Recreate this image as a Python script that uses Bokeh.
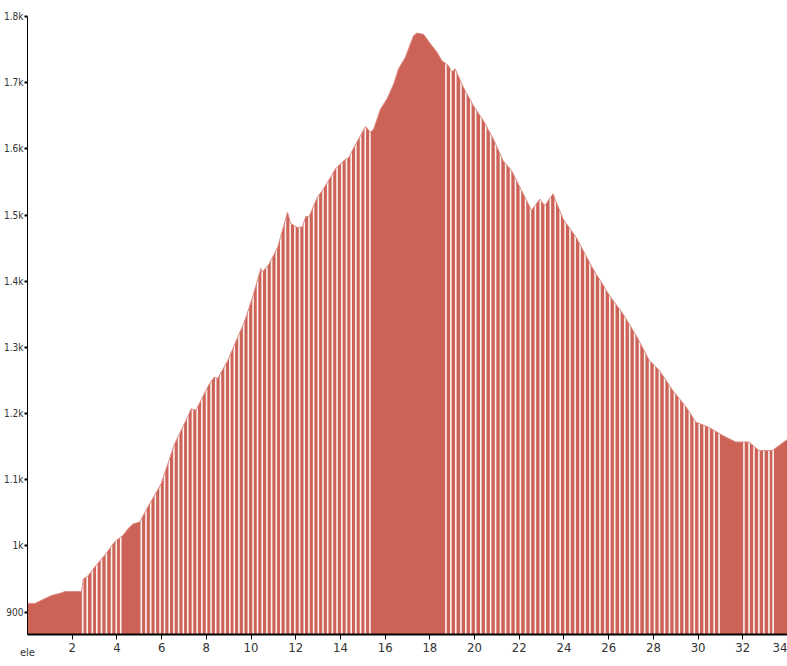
from bokeh.plotting import figure
from bokeh.models import Range1d, FixedTicker, CustomJSTickFormatter, ColumnDataSource
from bokeh.embed import file_html
from bokeh.resources import INLINE

# ---- data (distance in km, elevation in m) ----
dist_km = [0.00, 0.34, 0.64, 1.08, 1.53, 1.68, 2.42, 2.50, 2.72, 3.01, 3.46, 3.90,
           4.28, 4.50, 4.72, 5.02, 5.39, 5.98, 6.58, 7.17, 7.32, 7.54, 7.91, 8.14,
           8.36, 8.51, 8.96, 9.40, 9.70, 10.07, 10.37, 10.44, 10.52, 10.81, 11.19,
           11.63, 11.78, 12.08, 12.30, 12.45, 12.59, 12.97, 13.19, 13.56, 13.78,
           14.15, 14.38, 14.60, 14.90, 15.12, 15.34, 15.49, 15.79, 16.09, 16.38,
           16.60, 16.90, 17.27, 17.42, 17.72, 18.02, 18.32, 18.54, 18.83, 18.98,
           19.13, 19.50, 19.95, 20.39, 20.84, 21.28, 21.66, 22.10, 22.55, 22.92,
           23.14, 23.51, 23.96, 24.55, 25.29, 26.04, 26.63, 27.23, 27.82, 28.27,
           28.86, 29.46, 29.90, 30.49, 31.09, 31.68, 32.28, 32.72, 33.32, 34.00]
elevation = [913, 913, 918, 925, 929, 931, 931, 950, 955, 968, 986, 1006,
             1016, 1026, 1033, 1036, 1059, 1094, 1154, 1195, 1207, 1205, 1230, 1245,
             1255, 1253, 1280, 1315, 1338, 1376, 1411, 1419, 1414, 1426, 1451,
             1504, 1487, 1481, 1482, 1498, 1497, 1527, 1537, 1557, 1570,
             1582, 1587, 1602, 1620, 1634, 1625, 1630, 1660, 1676, 1698,
             1721, 1738, 1771, 1775, 1773, 1759, 1746, 1733, 1726, 1716,
             1721, 1693, 1665, 1643, 1615, 1582, 1567, 1537, 1507, 1524,
             1514, 1532, 1494, 1466, 1419, 1378, 1351, 1318, 1280, 1265,
             1235, 1210, 1187, 1179, 1167, 1157, 1157, 1144, 1144, 1161]

# segment boundaries (km) that show as thin white gaps in the fill
gap_km = [2.47, 2.67, 2.90, 3.10, 3.31, 3.53, 3.76, 3.97, 4.17,
          5.09, 5.30, 5.51, 5.72, 5.93, 6.13, 6.34, 6.55, 6.76, 6.97, 7.17, 7.38,
          7.59, 7.80, 8.01, 8.21, 8.42, 8.63, 8.84, 9.05, 9.25, 9.46, 9.67, 9.88,
          10.09, 10.29, 10.50, 10.71, 10.92, 11.13, 11.33, 11.54, 11.75, 11.96,
          12.17, 12.38, 12.59, 12.80, 13.01, 13.22, 13.43, 13.64, 13.85, 14.06,
          14.27, 14.48, 14.69, 14.90, 15.11, 15.32,
          18.72, 18.94, 19.16, 19.39, 19.61, 19.83, 20.05, 20.28, 20.50, 20.72,
          20.94, 21.16, 21.39, 21.61, 21.83, 22.05, 22.28, 22.50, 22.72, 22.94,
          23.16, 23.39, 23.61, 23.83, 24.05, 24.27, 24.50, 24.72, 24.94, 25.16,
          25.39, 25.61, 25.83, 26.05, 26.27, 26.50, 26.72, 26.94, 27.16, 27.38,
          27.61, 27.83, 28.05, 28.27, 28.50, 28.72, 28.94, 29.16, 29.38, 29.61,
          29.83, 30.05, 30.27, 30.49, 30.72, 30.94,
          32.05, 32.28, 32.50, 32.72, 32.94, 33.17, 33.36]

x_ticks = [2, 4, 6, 8, 10, 12, 14, 16, 18, 20, 22, 24, 26, 28, 30, 32, 34]
y_ticks = [900, 1000, 1100, 1200, 1300, 1400, 1500, 1600, 1700, 1800]
y_min, y_max = 866, 1800
x_min, x_max = 0, 34.0

FONT = "'DejaVu Sans Condensed', 'Liberation Sans', sans-serif"
FILL = "#cd6257"

p = figure(width=787, height=662, output_backend="svg", toolbar_location=None,
           x_range=Range1d(x_min, x_max), y_range=Range1d(y_min, y_max),
           min_border_left=26, min_border_right=0, min_border_top=16,
           min_border_bottom=28)
p.background_fill_color = "white"
p.border_fill_color = "white"
p.outline_line_color = None
p.xgrid.visible = False
p.ygrid.visible = False

src = ColumnDataSource(dict(x=dist_km, y=elevation, base=[y_min] * len(dist_km)))
p.varea(x="x", y1="base", y2="y", source=src, fill_color=FILL)

gsrc = ColumnDataSource(dict(x=gap_km, y0=[y_min] * len(gap_km), y1=[y_max] * len(gap_km)))
p.segment(x0="x", x1="x", y0="y0", y1="y1", source=gsrc, line_color="white",
          line_width=1.6, line_alpha=0.92)

p.line(x="x", y="y", source=src, line_color="#dc8c84", line_width=1.0)

# axes
p.xaxis.ticker = FixedTicker(ticks=x_ticks)
p.yaxis.ticker = FixedTicker(ticks=y_ticks)
p.yaxis.formatter = CustomJSTickFormatter(
    code="return tick >= 1000 ? (Math.round(tick/100)/10) + 'k' : tick.toString();")
for ax in (p.xaxis[0], p.yaxis[0]):
    ax.minor_tick_line_color = None
    ax.axis_line_color = "black"
    ax.major_tick_line_color = "black"
    ax.major_label_text_font = FONT
    ax.major_label_text_color = "#333333"
p.xaxis.axis_line_width = 2
p.xaxis.major_tick_in = 0
p.xaxis.major_tick_out = 5
p.xaxis.major_label_standoff = 3
p.xaxis.major_label_text_font_size = "13px"
p.xaxis.axis_label = "ele"
p.xaxis.axis_label_align = "start"
p.xaxis.axis_label_text_align = "right"
p.xaxis.axis_label_standoff = -9
p.xaxis.axis_label_text_font = FONT
p.xaxis.axis_label_text_font_size = "11px"
p.xaxis.axis_label_text_font_style = "normal"
p.xaxis.axis_label_text_color = "#333333"
p.yaxis.axis_line_width = 1
p.yaxis.major_tick_in = 0
p.yaxis.major_tick_out = 3
p.yaxis.major_tick_line_width = 2
p.yaxis.major_label_standoff = 1
p.yaxis.major_label_text_font_size = "10px"

open("out.html", "w").write(file_html(p, INLINE))
